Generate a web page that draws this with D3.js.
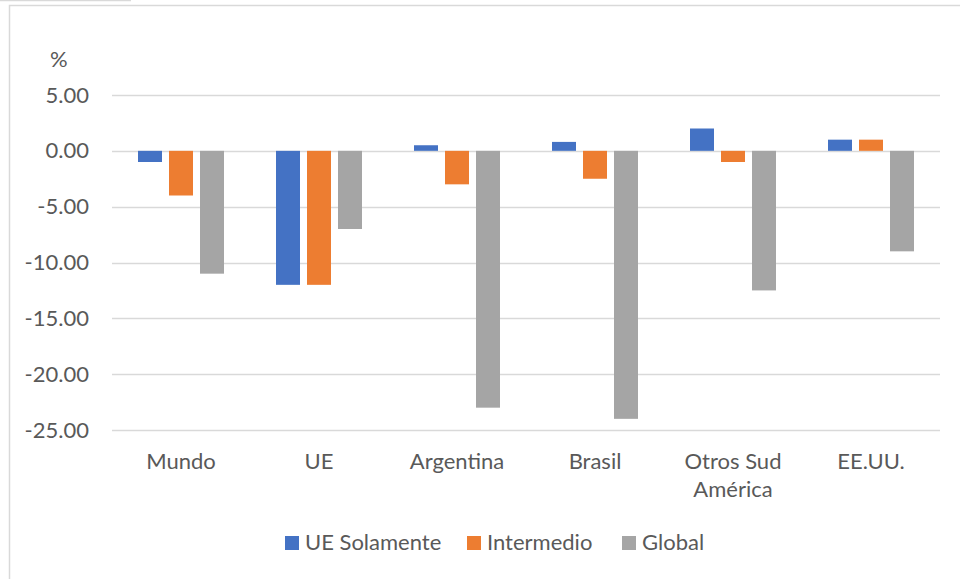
<!DOCTYPE html>
<html>
<head>
<meta charset="utf-8">
<script src="https://cdn.jsdelivr.net/npm/d3@7"></script>
<style>
  body { margin: 0; background: #fff; }
  svg { display: block; font-family: Lato, "Open Sans", sans-serif; }
</style>
</head>
<body>
<svg id="chart" width="960" height="579"></svg>
<script>
// data
const categories = ["Mundo", "UE", "Argentina", "Brasil", "Otros Sud América", "EE.UU."];
const seriesNames = ["UE Solamente", "Intermedio", "Global"];
const ueSolamente = [-1, -12, 0.5, 0.8, 2, 1];
const intermedio = [-4, -12, -3, -2.5, -1, 1];
const global = [-11, -7, -23, -24, -12.5, -9];
const yTicks = [5, 0, -5, -10, -15, -20, -25];
const colors = ["#4472C4", "#ED7D31", "#A5A5A5"];

const allSeries = [ueSolamente, intermedio, global];
const fontSize = "22px";
const textColor = "#595959";

let svg = d3.select("#chart");

/* outer frame */
svg.append("line")
    .attr("x1", 0).attr("x2", 131).attr("y1", 0.5).attr("y2", 0.5)
    .style("stroke", "#d9d9d9").style("stroke-width", 1.5);
svg.append("rect")
    .attr("x", 9.5).attr("y", 5.5)
    .attr("width", 1000).attr("height", 1000)
    .style("fill", "none").style("stroke", "#d9d9d9").style("stroke-width", 1.5);

const plotLeft = 112, plotRight = 940, plotTop = 95, plotBottom = 430;

/* scales */
let xScale = d3.scaleBand()
    .domain(categories)
    .range([plotLeft, plotRight])
    .paddingInner(0)
    .paddingOuter(0);

let xInner = d3.scaleBand()
    .domain(seriesNames)
    .range([26, xScale.bandwidth() - 26])
    .paddingInner(7 / 31);

let yScale = d3.scaleLinear()
    .domain([-25, 5])
    .range([plotBottom, plotTop]);

/* gridlines */
svg.append("g").attr("id", "grid")
    .selectAll("line")
    .data(yTicks)
    .join("line")
    .attr("x1", plotLeft).attr("x2", plotRight)
    .attr("y1", d => Math.round(yScale(d)) + 0.5)
    .attr("y2", d => Math.round(yScale(d)) + 0.5)
    .style("stroke", "#d9d9d9")
    .style("stroke-width", 1.5);

/* y axis labels (plain hyphen for negatives, like the original) */
let fmt = d => d3.format(".2f")(d).replace("\u2212", "-");
let yAxis = svg.append("g")
    .attr("id", "axis-y")
    .attr("transform", "translate(" + (plotLeft - 8) + ",0)")
    .call(d3.axisLeft(yScale).tickValues(yTicks).tickFormat(fmt).tickSize(0).tickPadding(15));
yAxis.select(".domain").remove();
yAxis.selectAll("text")
    .style("font-size", fontSize)
    .style("fill", textColor)
    .style("font-family", "Lato, sans-serif");

svg.append("text")
    .attr("x", 50).attr("y", 67)
    .text("%")
    .style("font-size", fontSize)
    .style("fill", textColor);

/* bars */
let groups = svg.append("g").attr("id", "bars")
    .selectAll("g")
    .data(seriesNames)
    .join("g")
    .style("fill", (d, i) => colors[i]);

groups.selectAll("rect")
    .data((s, si) => categories.map((c, ci) => ({ cat: c, series: s, value: allSeries[si][ci] })))
    .join("rect")
    .attr("x", d => xScale(d.cat) + xInner(d.series))
    .attr("width", xInner.bandwidth())
    .attr("y", d => yScale(Math.max(0, d.value)))
    .attr("height", d => Math.abs(yScale(d.value) - yScale(0)));

/* x labels */
let xLabels = svg.append("g").attr("id", "axis-x")
    .selectAll("text")
    .data(categories)
    .join("text")
    .attr("x", d => xScale(d) + xScale.bandwidth() / 2)
    .attr("y", 469)
    .attr("text-anchor", "middle")
    .style("font-size", fontSize)
    .style("fill", textColor);

xLabels.each(function (d) {
    let words = d === "Otros Sud América" ? ["Otros Sud", "América"] : [d];
    d3.select(this).selectAll("tspan")
        .data(words)
        .join("tspan")
        .attr("x", xScale(d) + xScale.bandwidth() / 2)
        .attr("dy", (w, i) => i === 0 ? 0 : 28)
        .text(w => w);
});

/* legend */
let legendX = [285, 467, 622];
let legend = svg.append("g").attr("id", "legend")
    .selectAll("g")
    .data(seriesNames)
    .join("g")
    .attr("transform", (d, i) => "translate(" + legendX[i] + ",536)");

legend.append("rect")
    .attr("width", 14).attr("height", 14)
    .style("fill", (d, i) => colors[i]);

legend.append("text")
    .attr("x", 20).attr("y", 14)
    .text(d => d)
    .style("font-size", fontSize)
    .style("fill", textColor);
</script>
</body>
</html>
